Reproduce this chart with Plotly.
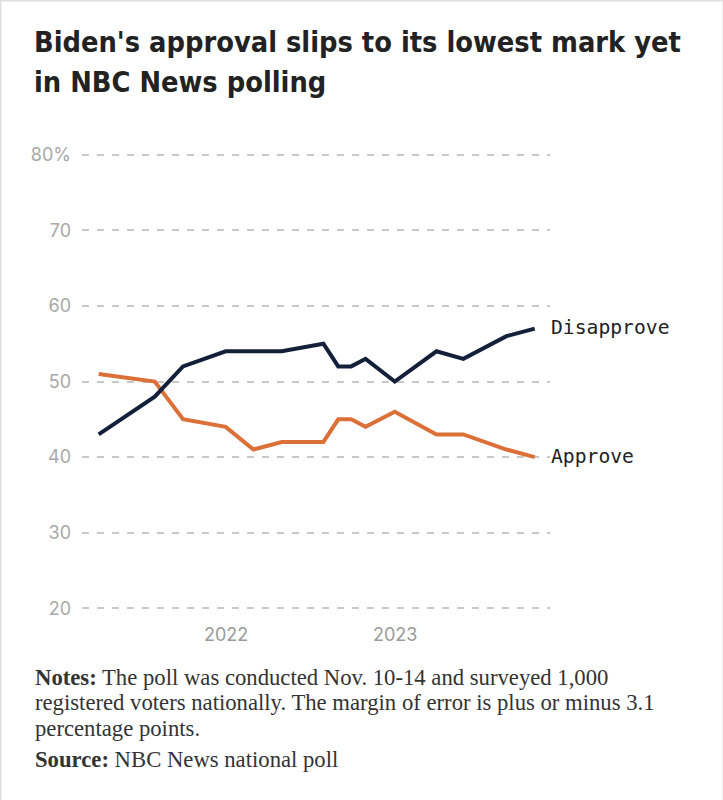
import plotly.graph_objects as go

# ---- data ----
poll_dates = ["2021-04-01", "2021-07-31", "2021-09-30", "2021-12-31", "2022-03-01",
              "2022-05-01", "2022-07-30", "2022-08-31", "2022-09-28", "2022-10-29",
              "2022-12-31", "2023-03-31", "2023-05-28", "2023-08-29", "2023-10-29"]
approve = [51, 50, 45, 44, 41, 42, 42, 45, 45, 44, 46, 43, 43, 41, 40]
disapprove = [43, 48, 52, 54, 54, 54, 55, 52, 52, 53, 50, 54, 53, 56, 57]
y_ticks = [20, 30, 40, 50, 60, 70, 80]
y_ticklabels = ["20", "30", "40", "50", "60", "70", "80%"]
x_ticks = ["2022-01-01", "2023-01-01"]
x_ticklabels = ["2022", "2023"]

title_lines = ["Biden's approval slips to its lowest mark yet", "in NBC News polling"]
notes_lines = [
    "<b>Notes:</b> The poll was conducted Nov. 10-14 and surveyed 1,000",
    "registered voters nationally. The margin of error is plus or minus 3.1",
    "percentage points.",
]
source_line = "<b>Source:</b> NBC News national poll"

W, H = 723, 800
ML, MR, MT, MB = 82, 173, 151, 188
PW, PH = W - ML - MR, H - MT - MB

NAVY = "#14203a"
ORANGE = "#db7038"

fig = go.Figure()
fig.add_trace(go.Scatter(x=poll_dates, y=approve, mode="lines", name="Approve",
                         line=dict(color=ORANGE, width=4), hoverinfo="skip"))
fig.add_trace(go.Scatter(x=poll_dates, y=disapprove, mode="lines", name="Disapprove",
                         line=dict(color=NAVY, width=4), hoverinfo="skip"))


def px_to_paper_y(py):
    return (H - MB - py) / PH


def px_to_paper_x(px):
    return (px - ML) / PW


annotations = []
# end labels
for name, vals in (("Disapprove", disapprove), ("Approve", approve)):
    annotations.append(dict(x=poll_dates[-1], y=vals[-1], xref="x", yref="y",
                            text=name, showarrow=False, xanchor="left", yanchor="middle",
                            xshift=14, yshift=1,
                            font=dict(family="DejaVu Sans Mono", size=19.7, color="#222222")))

# title lines
for i, line in enumerate(title_lines):
    annotations.append(dict(x=px_to_paper_x(32), y=px_to_paper_y(42 + 40 * i), xref="paper", yref="paper",
                            text=line, showarrow=False, xanchor="left", yanchor="middle",
                            font=dict(family="DejaVu Sans Condensed, Roboto", size=28.7, color="#222222",
                                      weight="bold")))

# notes
for i, line in enumerate(notes_lines):
    annotations.append(dict(x=px_to_paper_x(33), y=px_to_paper_y(677 + 25.5 * i), xref="paper", yref="paper",
                            text=line, showarrow=False, xanchor="left", yanchor="middle",
                            font=dict(family="Liberation Serif", size=22.7, color="#333333")))
annotations.append(dict(x=px_to_paper_x(33), y=px_to_paper_y(759), xref="paper", yref="paper",
                        text=source_line, showarrow=False, xanchor="left", yanchor="middle",
                        font=dict(family="Liberation Serif", size=22.7, color="#333333")))

# light frame on top, left, right
shapes = [
    dict(type="line", xref="paper", yref="paper", x0=px_to_paper_x(0), x1=px_to_paper_x(W),
         y0=px_to_paper_y(0.75), y1=px_to_paper_y(0.75), line=dict(color="#e0e0e0", width=1.5)),
    dict(type="line", xref="paper", yref="paper", x0=px_to_paper_x(0.75), x1=px_to_paper_x(0.75),
         y0=px_to_paper_y(0), y1=px_to_paper_y(H), line=dict(color="#e0e0e0", width=1.5)),
    dict(type="line", xref="paper", yref="paper", x0=px_to_paper_x(W - 0.5), x1=px_to_paper_x(W - 0.5),
         y0=px_to_paper_y(0), y1=px_to_paper_y(H), line=dict(color="#eeeeee", width=1)),
]

fig.update_layout(
    width=W, height=H,
    margin=dict(l=ML, r=MR, t=MT, b=MB, pad=0),
    paper_bgcolor="white", plot_bgcolor="white",
    showlegend=False,
    annotations=annotations,
    shapes=shapes,
    xaxis=dict(type="date", range=["2021-02-24", "2023-12-01"],
               tickmode="array", tickvals=x_ticks, ticktext=x_ticklabels,
               showgrid=False, zeroline=False, showline=False, ticks="",
               ticklabelstandoff=10,
               tickfont=dict(family="Inter", size=18, color="#9a9a9a")),
    yaxis=dict(range=[19.5, 80.5], tickmode="array", tickvals=y_ticks, ticktext=y_ticklabels,
               showgrid=True, gridcolor="#c8c8c8", gridwidth=1.5, griddash="7px,8px",
               zeroline=False, showline=False, ticks="", ticklabelstandoff=10,
               tickfont=dict(family="Inter", size=18, color="#a8a8a8")),
)

fig.write_html("out.html", config={"displayModeBar": False},
               post_script="document.body.style.margin='0';document.body.style.padding='0';")
